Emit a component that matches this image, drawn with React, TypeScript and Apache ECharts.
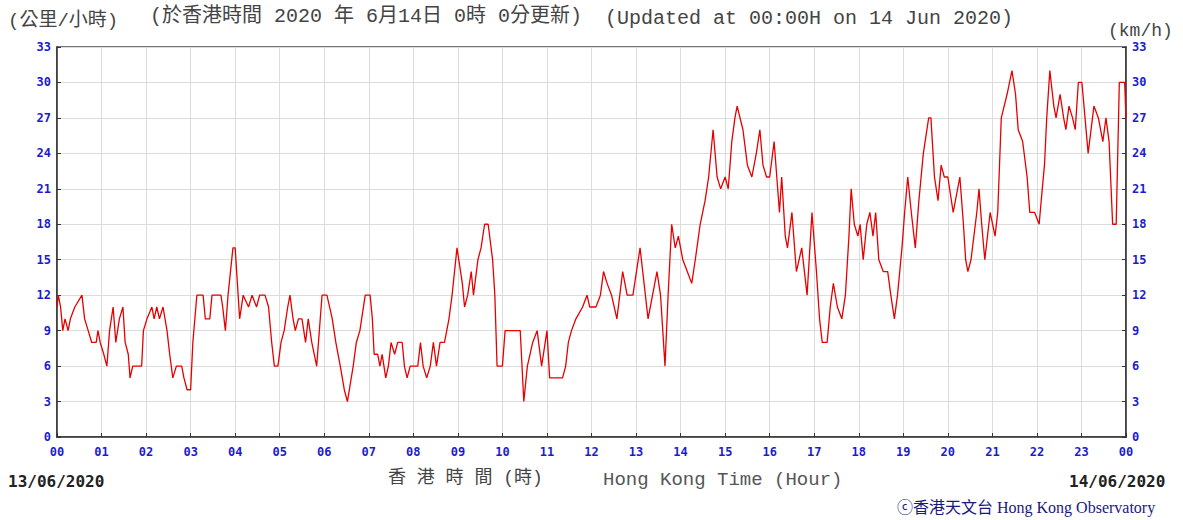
import React, { useEffect, useRef } from "react";
import * as echarts from "echarts";

// Time (hours after 00:00 on 13/06/2020) and 10-minute mean wind speed (km/h)
const times: number[] = [
  0.00, 0.03, 0.08, 0.13, 0.18, 0.25, 0.30, 0.40, 0.56, 0.62, 0.70, 0.78, 0.88, 0.92, 0.97,
  1.05, 1.12, 1.18, 1.26, 1.32, 1.40, 1.48, 1.53, 1.60, 1.64, 1.70, 1.90, 1.94,
  2.02, 2.13, 2.18, 2.24, 2.30, 2.38, 2.47, 2.53, 2.60, 2.68, 2.80, 2.85, 2.92,
  3.00, 3.05, 3.14, 3.28, 3.33, 3.43, 3.48, 3.68, 3.72, 3.78, 3.84, 3.95,
  4.00, 4.05, 4.10, 4.18, 4.30, 4.38, 4.48, 4.55, 4.67, 4.75, 4.82, 4.88, 4.96,
  5.03, 5.10, 5.18, 5.23, 5.30, 5.35, 5.42, 5.50, 5.58, 5.64, 5.72, 5.83, 5.95,
  6.06, 6.18, 6.26, 6.36, 6.45, 6.52, 6.65, 6.72, 6.80, 6.92,
  7.03, 7.08, 7.12, 7.20, 7.25, 7.30, 7.38, 7.44, 7.50, 7.58, 7.65, 7.75, 7.80, 7.86, 7.93,
  8.10, 8.16, 8.22, 8.30, 8.38, 8.45, 8.52, 8.60, 8.70, 8.75, 8.80, 8.87, 8.98,
  9.10, 9.15, 9.22, 9.30, 9.35, 9.45, 9.52, 9.60, 9.68, 9.78, 9.83, 9.88,
  10.00, 10.06, 10.40, 10.44, 10.48, 10.56, 10.68, 10.78, 10.88,
  11.00, 11.06, 11.35, 11.42, 11.48, 11.55, 11.65, 11.80, 11.90, 11.96,
  12.10, 12.20, 12.27, 12.35, 12.45, 12.57, 12.70, 12.80, 12.93,
  13.09, 13.27, 13.47, 13.55, 13.65, 13.72, 13.80, 13.88, 13.95,
  14.05, 14.15, 14.25, 14.33, 14.44, 14.55, 14.63, 14.73, 14.82, 14.90,
  15.00, 15.07, 15.15, 15.22, 15.27, 15.40, 15.50, 15.60, 15.70, 15.78, 15.85, 15.93,
  16.00, 16.10, 16.18, 16.22, 16.27, 16.35, 16.40, 16.50, 16.60, 16.72, 16.84, 16.95,
  17.05, 17.12, 17.18, 17.29, 17.36, 17.43, 17.52, 17.62, 17.70, 17.78, 17.83, 17.90, 17.98,
  18.03, 18.10, 18.18, 18.25, 18.32, 18.38, 18.45, 18.55, 18.65, 18.72, 18.80, 18.87, 18.97,
  19.03, 19.10, 19.18, 19.27, 19.35, 19.40, 19.45, 19.57, 19.62, 19.70, 19.78, 19.85, 19.92,
  20.00, 20.12, 20.27, 20.35, 20.40, 20.45, 20.52, 20.65, 20.70, 20.76, 20.83, 20.95,
  21.06, 21.12, 21.20, 21.33, 21.44, 21.52, 21.58, 21.68, 21.78, 21.84, 21.95,
  22.05, 22.12, 22.17, 22.22, 22.29, 22.38, 22.43, 22.52, 22.60, 22.65, 22.72, 22.80, 22.86, 22.93,
  23.01, 23.08, 23.15, 23.28, 23.38, 23.48, 23.55, 23.62, 23.70, 23.78, 23.85, 23.90, 23.97, 24.00,
];

const speeds: number[] = [
  11, 12, 11, 9, 10, 9, 10, 11, 12, 10, 9, 8, 8, 9, 8,
  7, 6, 9, 11, 8, 10, 11, 8, 7, 5, 6, 6, 9,
  10, 11, 10, 11, 10, 11, 9, 7, 5, 6, 6, 5, 4,
  4, 8, 12, 12, 10, 10, 12, 12, 11, 9, 12, 16,
  16, 13, 10, 12, 11, 12, 11, 12, 12, 11, 8, 6, 6,
  8, 9, 11, 12, 10, 9, 10, 10, 8, 10, 8, 6, 12,
  12, 10, 8, 6, 4, 3, 6, 8, 9, 12,
  12, 10, 7, 7, 6, 7, 5, 6, 8, 7, 8, 8, 6, 5, 6,
  6, 8, 6, 5, 6, 8, 6, 8, 8, 9, 10, 12, 16,
  13, 11, 12, 14, 12, 15, 16, 18, 18, 15, 12, 6,
  6, 9, 9, 6, 3, 6, 8, 9, 6,
  9, 5, 5, 6, 8, 9, 10, 11, 12, 11,
  11, 12, 14, 13, 12, 10, 14, 12, 12,
  16, 10, 14, 12, 6, 12, 18, 16, 17,
  15, 14, 13, 15, 18, 20, 22, 26, 22, 21,
  22, 21, 25, 27, 28, 26, 23, 22, 24, 26, 23, 22,
  22, 25, 21, 19, 22, 17, 16, 19, 14, 16, 12, 19,
  14, 10, 8, 8, 11, 13, 11, 10, 12, 17, 21, 18, 17,
  18, 15, 18, 19, 17, 19, 15, 14, 14, 12, 10, 12, 16,
  19, 22, 19, 16, 20, 22, 24, 27, 27, 22, 20, 23, 22,
  22, 19, 22, 18, 15, 14, 15, 19, 21, 18, 15, 19,
  17, 19, 27, 29, 31, 29, 26, 25, 22, 19, 19,
  18, 21, 23, 27, 31, 28, 27, 29, 27, 26, 28, 27, 26, 30,
  30, 27, 24, 28, 27, 25, 27, 25, 18, 18, 30, 30, 30, 27,
];

const hourLabels: string[] = [
  "00", "01", "02", "03", "04", "05", "06", "07", "08", "09", "10", "11", "12",
  "13", "14", "15", "16", "17", "18", "19", "20", "21", "22", "23", "00",
];

const headerZh = "(於香港時間 2020 年 6月14日 0時 0分更新)";
const headerEn = "(Updated at 00:00H on 14 Jun 2020)";
const unitZh = "(公里/小時)";
const unitEn = "(km/h)";
const startDate = "13/06/2020";
const endDate = "14/06/2020";
const axisTitleZh = "香 港 時 間 (時)";
const axisTitleEn = "Hong Kong Time (Hour)";
const credit = "ⓒ香港天文台 Hong Kong Observatory";

export default function App() {
  const ref = useRef<HTMLDivElement>(null);

  useEffect(() => {
    if (!ref.current) return;
    const chart = echarts.init(ref.current, null, { renderer: "svg" });
    const data = times.map((t, i) => [t, speeds[i]]);
    const labelStyle = {
      color: "#1c1ccc",
      fontFamily: "DejaVu Sans Mono",
      fontWeight: "bold" as const,
      fontSize: 12,
    };
    const yAxisBase = {
      type: "value" as const,
      min: 0,
      max: 33,
      interval: 3,
      axisLine: { show: true, lineStyle: { color: "#333", width: 1.5 } },
      axisTick: { show: true, inside: true, length: 4, lineStyle: { color: "#333" } },
      axisLabel: { ...labelStyle, margin: 6 },
    };
    chart.setOption({
      animation: false,
      backgroundColor: "#ffffff",
      grid: {
        left: 57,
        right: 57,
        top: 47,
        bottom: 83,
        show: true,
        borderColor: "#444",
        borderWidth: 1.5,
      },
      xAxis: {
        type: "value",
        min: 0,
        max: 24,
        interval: 1,
        axisLine: { show: true, lineStyle: { color: "#333", width: 1.5 } },
        axisTick: { show: true, inside: true, length: 4, lineStyle: { color: "#333" } },
        axisLabel: {
          ...labelStyle,
          margin: 9,
          formatter: (v: number) => hourLabels[Math.round(v)] ?? "",
        },
        splitLine: { show: true, lineStyle: { color: "#dcdcdc", width: 1 } },
      },
      yAxis: [
        {
          ...yAxisBase,
          position: "left",
          splitLine: { show: true, lineStyle: { color: "#dcdcdc", width: 1 } },
        },
        {
          ...yAxisBase,
          position: "right",
          splitLine: { show: false },
        },
      ],
      series: [
        {
          type: "line",
          yAxisIndex: 0,
          data,
          showSymbol: false,
          symbol: "none",
          lineStyle: { color: "#e60000", width: 1.3 },
        },
      ],
      graphic: [
        {
          type: "text",
          left: 8,
          top: 11,
          style: { text: unitZh, fill: "#444", font: "19px 'Liberation Mono', 'Noto Sans CJK TC'" },
        },
        {
          type: "text",
          left: 150,
          top: 6,
          style: { text: headerZh, fill: "#444", font: "20px 'Liberation Mono', 'Noto Sans CJK TC'" },
        },
        {
          type: "text",
          left: 605,
          top: 8,
          style: { text: headerEn, fill: "#444", font: "20px 'Liberation Mono'" },
        },
        {
          type: "text",
          left: 1108,
          top: 22,
          style: { text: unitEn, fill: "#444", font: "18px 'Liberation Mono'" },
        },
        {
          type: "text",
          left: 8,
          top: 473,
          style: { text: startDate, fill: "#222", font: "bold 16px 'DejaVu Sans Mono'" },
        },
        {
          type: "text",
          left: 1069,
          top: 473,
          style: { text: endDate, fill: "#222", font: "bold 16px 'DejaVu Sans Mono'" },
        },
        {
          type: "text",
          left: 388,
          top: 469,
          style: { text: axisTitleZh, fill: "#444", font: "18px 'Liberation Mono', 'Noto Sans CJK TC'" },
        },
        {
          type: "text",
          left: 603,
          top: 470,
          style: { text: axisTitleEn, fill: "#555", font: "19px 'Liberation Mono'" },
        },
        {
          type: "text",
          left: 897,
          top: 499,
          style: { text: credit, fill: "#1a1a7a", font: "16px 'Liberation Serif', 'Noto Sans CJK TC'" },
        },
      ],
    });
    return () => chart.dispose();
  }, []);

  return (
    <div
      ref={ref}
      style={{ position: "fixed", left: 0, top: 0, width: 1183, height: 520 }}
    />
  );
}
